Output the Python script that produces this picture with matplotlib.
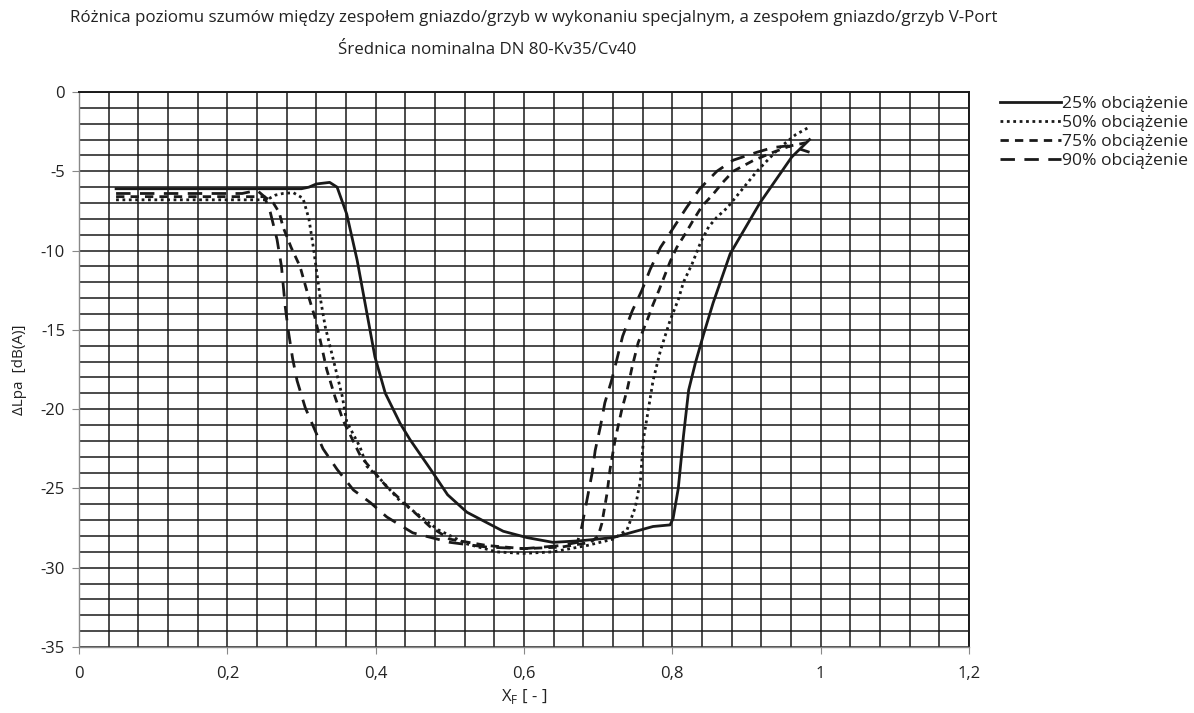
import numpy as np
import matplotlib
matplotlib.use('Agg')
import matplotlib.pyplot as plt
from matplotlib.ticker import MultipleLocator, FuncFormatter

plt.rcParams['font.family'] = ['Open Sans', 'DejaVu Sans']

# dane
x25 = [0.05, 0.10, 0.20, 0.30, 0.31, 0.32, 0.338, 0.348, 0.361, 0.375, 0.388, 0.399, 0.413, 0.433, 0.446,
       0.477, 0.497, 0.523, 0.572, 0.604, 0.639, 0.676, 0.72, 0.774, 0.797, 0.801, 0.808, 0.815, 0.822,
       0.831, 0.842, 0.855, 0.878, 0.918, 0.961, 0.985]
y25 = [-6.1, -6.1, -6.1, -6.1, -6.0, -5.8, -5.7, -6.0, -7.7, -10.6, -13.9, -16.7, -19.0, -20.9, -21.9,
       -24.0, -25.4, -26.5, -27.7, -28.1, -28.4, -28.3, -28.1, -27.4, -27.3, -26.9, -25.0, -21.7, -18.8,
       -17.1, -15.3, -13.3, -10.2, -7.0, -4.1, -3.0]

x50 = [0.05, 0.20, 0.253, 0.265, 0.275, 0.289, 0.302, 0.31, 0.316, 0.325, 0.332, 0.343, 0.355, 0.361,
       0.379, 0.388, 0.406, 0.433, 0.484, 0.523, 0.563, 0.599, 0.639, 0.685, 0.72, 0.739, 0.75, 0.757,
       0.761, 0.766, 0.774, 0.784, 0.797, 0.808, 0.815, 0.827, 0.838, 0.849, 0.86, 0.874, 0.914, 0.945,
       0.966, 0.985]
y50 = [-6.8, -6.8, -6.8, -6.5, -6.4, -6.35, -6.7, -8.0, -9.8, -12.9, -14.8, -16.9, -19.2, -20.8,
       -22.4, -23.6, -24.4, -25.8, -27.6, -28.5, -29.0, -29.1, -29.0, -28.6, -28.2, -27.6, -26.2, -24.5,
       -21.9, -20.5, -18.2, -16.3, -14.4, -13.1, -12.0, -10.8, -9.5, -8.5, -7.9, -7.3, -5.0, -3.5,
       -2.7, -2.2]

x75 = [0.05, 0.20, 0.25, 0.262, 0.27, 0.275, 0.286, 0.298, 0.307, 0.318, 0.325, 0.334, 0.345, 0.356,
       0.38, 0.415, 0.473, 0.5, 0.55, 0.6, 0.65, 0.69, 0.70, 0.705, 0.712, 0.716, 0.723, 0.732, 0.739,
       0.746, 0.754, 0.766, 0.774, 0.782, 0.797, 0.806, 0.818, 0.828, 0.84, 0.854, 0.868, 0.882, 0.91,
       0.936, 0.959, 0.98]
y75 = [-6.6, -6.6, -6.6, -7.0, -7.6, -8.5, -9.8, -11.0, -12.5, -14.2, -15.6, -17.5, -19.2, -20.7,
       -23.0, -24.9, -27.4, -28.2, -28.6, -28.8, -28.7, -28.4, -28.0, -27.2, -25.3, -23.8, -21.9, -20.0,
       -18.8, -17.3, -15.8, -14.4, -13.4, -12.5, -10.7, -9.8, -8.9, -8.1, -7.2, -6.5, -5.7, -5.0, -4.3,
       -3.8, -3.4, -3.2]

x90 = [0.05, 0.20, 0.22, 0.24, 0.25, 0.258, 0.267, 0.273, 0.278, 0.282, 0.288, 0.294, 0.305, 0.316,
       0.329, 0.348, 0.37, 0.393, 0.415, 0.45, 0.5, 0.55, 0.6, 0.65, 0.672, 0.678, 0.685, 0.692, 0.696,
       0.703, 0.709, 0.718, 0.725, 0.733, 0.746, 0.759, 0.77, 0.784, 0.801, 0.819, 0.837, 0.86, 0.882,
       0.914, 0.936, 0.955, 0.972, 0.985]
y90 = [-6.4, -6.4, -6.4, -6.2, -6.6, -7.6, -9.3, -11.0, -13.5, -15.0, -16.8, -18.2, -19.9, -21.1,
       -22.5, -23.8, -25.1, -25.9, -26.8, -27.8, -28.4, -28.7, -28.8, -28.6, -28.4, -27.4, -25.7, -24.0,
       -22.6, -21.1, -19.6, -18.2, -16.9, -15.4, -13.8, -12.5, -11.2, -9.8, -8.6, -7.3, -6.1, -5.0,
       -4.3, -3.8, -3.5, -3.4, -3.6, -3.8]

labels = ['25% obciążenie', '50% obciążenie', '75% obciążenie', '90% obciążenie']

fig = plt.figure(figsize=(11.94, 7.13), dpi=100)
ax = fig.add_axes([79/1194, 1-647/713, 890/1194, 555/713])

ax.plot(x25, y25, color='#1a1a1a', lw=2.0, linestyle='-', label=labels[0])
ax.plot(x50, y50, color='#1a1a1a', lw=2.0, linestyle=(0, (1.0, 1.3)), label=labels[1])
ax.plot(x75, y75, color='#1a1a1a', lw=2.0, linestyle=(0, (3.0, 2.2)), label=labels[2])
ax.plot(x90, y90, color='#1a1a1a', lw=2.0, linestyle=(0, (5.2, 3.4)), label=labels[3])

ax.set_xlim(0, 1.2)
ax.set_ylim(-35, 0)
ax.xaxis.set_major_locator(MultipleLocator(0.2))
ax.yaxis.set_major_locator(MultipleLocator(5))
ax.xaxis.set_minor_locator(MultipleLocator(0.04))
ax.yaxis.set_minor_locator(MultipleLocator(1))
ax.xaxis.set_major_formatter(FuncFormatter(lambda v, p: ('%g' % round(v, 2)).replace('.', ',')))
ax.yaxis.set_major_formatter(FuncFormatter(lambda v, p: '%g' % v))

ax.grid(True, which='both', color='#1a1a1a', lw=1.1)
ax.set_axisbelow(True)
ax.tick_params(which='minor', length=0)
ax.tick_params(which='major', length=5, color='#888888', labelsize=12, labelcolor='#222222', pad=5)
ax.tick_params(axis='x', pad=9)
for s in ['left', 'bottom']:
    ax.spines[s].set_color('#888888')
    ax.spines[s].set_linewidth(1.0)
for s in ['top', 'right']:
    ax.spines[s].set_color('#1a1a1a')
    ax.spines[s].set_linewidth(1.4)

ax.set_xlabel('X$_\\mathregular{F}$ [ - ]', fontsize=12, color='#222222', labelpad=3)
ax.set_ylabel('ΔLpa  [dB(A)]', fontsize=11, color='#222222', labelpad=10)

fig.text(534/1194, 1-18/713, 'Różnica poziomu szumów między zespołem gniazdo/grzyb w wykonaniu specjalnym, a zespołem gniazdo/grzyb V-Port',
         ha='center', va='center', fontsize=12.2, color='#222222')
fig.text(487/1194, 1-50/713, 'Średnica nominalna DN 80-Kv35/Cv40', ha='center', va='center', fontsize=12.2, color='#222222')

fig.legend(loc='upper left', bbox_to_anchor=(1000/1194, 1-96/713), frameon=False, fontsize=12.6,
           handlelength=3.5, handletextpad=0.05, labelspacing=0.16, borderaxespad=0, borderpad=0,
           labelcolor='#222222')

fig.savefig('out.png', dpi=100)
